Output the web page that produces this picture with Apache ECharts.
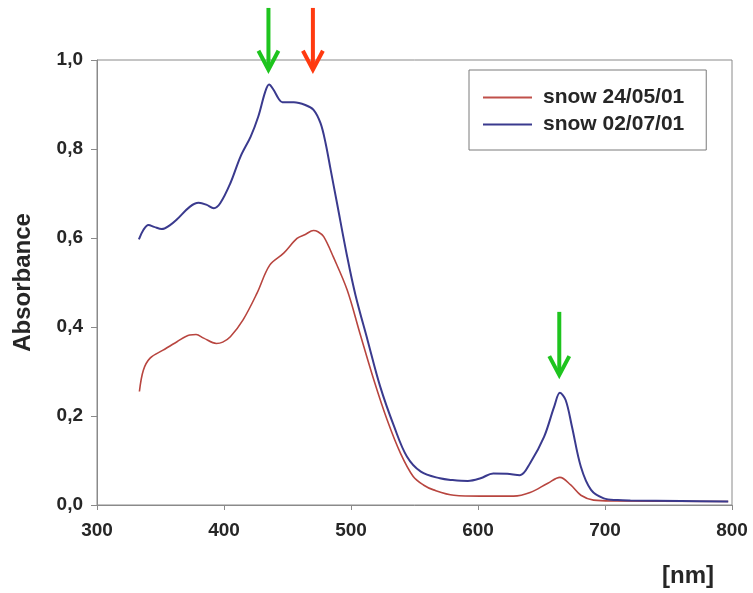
<!DOCTYPE html>
<html>
<head>
<meta charset="utf-8">
<script src="https://cdn.jsdelivr.net/npm/echarts@6/dist/echarts.min.js"></script>
<style>html,body{margin:0;padding:0;background:#fff}#c{width:753px;height:593px}</style>
</head>
<body>
<div id="c"></div>
<script>
// Wavelength (nm) and absorbance
const seriesNames = ['snow 24/05/01', 'snow 02/07/01'];
const redWl = [333.4,336.5,341.8,352,363,373,378,384,394,399,405,415,426,436,447,457.5,464,470.5,474,478.5,486,497,507,518,528.5,539,549,557,565,581,602,620,628,641,655,664.5,673,681,691,707,797];
const redAbs = [0.255,0.303,0.330,0.348,0.367,0.382,0.383,0.375,0.363,0.366,0.378,0.416,0.476,0.539,0.566,0.599,0.608,0.617,0.614,0.603,0.558,0.483,0.386,0.281,0.191,0.116,0.064,0.045,0.034,0.022,0.020,0.020,0.020,0.028,0.049,0.062,0.045,0.022,0.011,0.009,0.008];
const blueWl = [333,336.5,340.5,345,351,357,363,373,380,386,392,397,405,413,421,427,432.5,435.5,439,443,446,455,464,470.5,476,480,484,489,497,503.5,513,523,534,544,555,570,580,592,602,612,623,633,641,652,660,664.5,669,674,681,689,699,710,720,760,797];
const blueAbs = [0.597,0.618,0.629,0.625,0.620,0.628,0.642,0.670,0.679,0.675,0.667,0.678,0.723,0.783,0.828,0.873,0.929,0.945,0.933,0.913,0.905,0.905,0.899,0.888,0.858,0.813,0.753,0.678,0.558,0.472,0.371,0.266,0.176,0.109,0.075,0.060,0.056,0.054,0.060,0.071,0.070,0.067,0.094,0.153,0.221,0.252,0.236,0.176,0.086,0.034,0.015,0.011,0.010,0.009,0.008];
const xTicks = [300, 400, 500, 600, 700, 800];
const yTicks = [0, 0.2, 0.4, 0.6, 0.8, 1.0];
// Annotation arrows: wavelength, shaft top value, tip value
const arrowWl = [435, 470, 664];
const arrowTop = [1.117, 1.117, 0.434];
const arrowTip = [0.978, 0.978, 0.292];
const arrowColor = ['#1ec41e', '#ff3a10', '#1ec41e'];

const txt = '#262626';
const font = '"Liberation Sans", Arial, sans-serif';
const chart = echarts.init(document.getElementById('c'), null, {renderer: 'canvas'});
const zip = (a, b) => a.map((v, i) => [v, b[i]]);

chart.setOption({
  animation: false,
  backgroundColor: '#fff',
  grid: {left: 97, right: 21, top: 60, bottom: 88, show: true, borderColor: '#8a8a8a', borderWidth: 1},
  legend: {
    left: 469, top: 70, orient: 'vertical',
    borderColor: '#7a7a7a', borderWidth: 1,
    padding: [17, 22, 15, 14],
    icon: 'rect',
    itemWidth: 49, itemHeight: 2, itemGap: 6, itemTextGap: 11,
    textStyle: {fontSize: 21, fontWeight: 'bold', color: txt, fontFamily: font, lineHeight: 21, padding: [0, 0, 0, 6]},
    data: seriesNames
  },
  xAxis: {
    type: 'value', min: xTicks[0], max: xTicks[xTicks.length - 1], interval: 100,
    axisLine: {lineStyle: {color: '#8a8a8a'}},
    axisTick: {show: true, length: 5, lineStyle: {color: '#8a8a8a'}},
    splitLine: {show: false},
    axisLabel: {fontSize: 19, fontWeight: 'bold', color: txt, fontFamily: font, margin: 16}
  },
  yAxis: {
    type: 'value', min: yTicks[0], max: yTicks[yTicks.length - 1], interval: 0.2,
    name: 'Absorbance', nameLocation: 'middle', nameGap: 62, nameRotate: 90,
    nameTextStyle: {fontSize: 24, fontWeight: 'bold', color: txt, fontFamily: font},
    axisLine: {show: true, lineStyle: {color: '#8a8a8a'}},
    axisTick: {show: true, length: 6, lineStyle: {color: '#8a8a8a'}},
    splitLine: {show: false},
    axisLabel: {fontSize: 19, fontWeight: 'bold', color: txt, fontFamily: font, margin: 14,
      formatter: v => v.toFixed(1).replace('.', ',')}
  },
  series: [
    {name: seriesNames[0], type: 'line', data: zip(redWl, redAbs), showSymbol: false, symbol: 'none', smooth: 0.35,
     lineStyle: {color: '#b8453f', width: 1.6}, itemStyle: {color: '#c0504a'}},
    {name: seriesNames[1], type: 'line', data: zip(blueWl, blueAbs), showSymbol: false, symbol: 'none', smooth: 0.35,
     lineStyle: {color: '#3a3a8e', width: 2}, itemStyle: {color: '#3a3a8e'}}
  ]
});

const g = [];
arrowWl.forEach((w, i) => {
  const top = chart.convertToPixel({gridIndex: 0}, [w, arrowTop[i]]);
  const tip = chart.convertToPixel({gridIndex: 0}, [w, arrowTip[i]]);
  g.push({type: 'line', shape: {x1: top[0], y1: top[1], x2: tip[0], y2: tip[1] - 2},
    style: {stroke: arrowColor[i], lineWidth: 4}});
  g.push({type: 'polyline', shape: {points: [[tip[0] - 10, tip[1] - 19], [tip[0], tip[1]], [tip[0] + 10, tip[1] - 19]]},
    style: {stroke: arrowColor[i], lineWidth: 4, fill: null, lineJoin: 'miter'}});
});
g.push({type: 'text', left: 662, top: 564,
  style: {text: '[nm]', fontSize: 24, fontWeight: 'bold', fill: txt, fontFamily: font}});
chart.setOption({graphic: g});
</script>
</body>
</html>
